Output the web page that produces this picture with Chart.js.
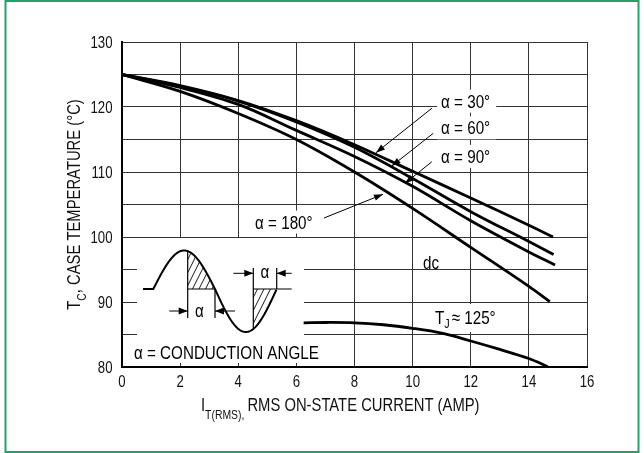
<!DOCTYPE html>
<html>
<head>
<meta charset="utf-8">
<script src="https://cdn.jsdelivr.net/npm/chart.js@4/dist/chart.umd.min.js"></script>
<style>
  html, body { margin: 0; padding: 0; background: #fff; }
  canvas { display: block; }
</style>
</head>
<body>
<canvas id="c" width="644" height="453"></canvas>
<script>
const FONT = "'Liberation Sans', Arial, sans-serif";
const NARROW = 0.8;   // horizontal squeeze for the condensed lettering

// Axis ticks
const xTickValues = [0, 2, 4, 6, 8, 10, 12, 14, 16];
const yTickValues = [80, 85, 90, 95, 100, 105, 110, 115, 120, 125, 130];
const yLabelValues = [80, 90, 100, 110, 120, 130];

// Maximum case temperature vs RMS on-state current, per conduction angle
const xAlpha30  = [0, 2, 4, 6, 8, 10, 12, 14, 14.83];
const tcAlpha30 = [125, 123.3, 121.0, 117.9, 114.2, 110.1, 106.0, 101.8, 100.0];
const xAlpha60  = [0, 2, 4, 6, 8, 10, 12, 14, 14.85];
const tcAlpha60 = [125, 123.2, 120.9, 117.7, 113.8, 109.0, 103.9, 99.3, 97.3];
const xAlpha90  = [0, 2, 4, 6, 8, 10, 12, 14, 14.9];
const tcAlpha90 = [125, 123.0, 120.4, 116.4, 112.4, 107.8, 102.5, 97.7, 95.7];
const xAlpha180  = [0, 2, 4, 6, 8, 10, 12, 14, 14.72];
const tcAlpha180 = [125, 122.4, 119.0, 115.0, 110.0, 104.4, 98.4, 92.4, 90.05];
// Junction-temperature curve
const xJunction  = [6.25, 7, 8, 9, 10, 11, 12, 13, 14, 14.65];
const tcJunction = [86.8, 86.85, 86.8, 86.5, 85.95, 85.2, 84.0, 82.7, 81.3, 80.05];

const toPoints = (xs, ys) => xs.map((x, i) => ({ x, y: ys[i] }));

const curveStyle = {
  borderColor: '#000',
  borderWidth: 2.8,
  pointRadius: 0,
  fill: false,
  tension: 0.35
};

// Curve labels with leader arrows (data coordinates)
const curveLabels = [
  { text: 'α = 30°',  at: [10.98, 120.9], from: [10.66, 119.8],  to: [8.74, 112.97] },
  { text: 'α = 60°',  at: [10.98, 116.8], from: [10.71, 115.95], to: [9.28, 110.92] },
  { text: 'α = 90°',  at: [10.98, 112.4], from: [10.66, 111.58], to: [9.74, 108.26] },
  { text: 'α = 180°', at: [4.58, 102.3],  from: [6.95, 102.92],  to: [8.98, 106.57] }
];
const plainLabels = [
  { text: 'dc', at: [10.36, 96.15] }
];

// Condensed text: draws with a horizontal squeeze, returns drawn width
function say(ctx, text, x, y, size, align = 'left', baseline = 'alphabetic') {
  ctx.save();
  ctx.font = size + 'px ' + FONT;
  ctx.textAlign = align;
  ctx.textBaseline = baseline;
  ctx.translate(x, y);
  ctx.scale(NARROW, 1);
  ctx.fillText(text, 0, 0);
  const w = ctx.measureText(text).width * NARROW;
  ctx.restore();
  return w;
}
function textWidth(ctx, text, size) {
  ctx.save();
  ctx.font = size + 'px ' + FONT;
  const w = ctx.measureText(text).width * NARROW;
  ctx.restore();
  return w;
}

function arrowHead(ctx, x1, y1, x2, y2, len, half) {
  const a = Math.atan2(y2 - y1, x2 - x1);
  const bx = x2 - len * Math.cos(a), by = y2 - len * Math.sin(a);
  ctx.beginPath();
  ctx.moveTo(x2, y2);
  ctx.lineTo(bx + half * Math.sin(a), by - half * Math.cos(a));
  ctx.lineTo(bx - half * Math.sin(a), by + half * Math.cos(a));
  ctx.closePath();
  ctx.fill();
}
function arrow(ctx, x1, y1, x2, y2, len = 9, half = 3.2) {
  ctx.beginPath();
  ctx.moveTo(x1, y1);
  ctx.lineTo(x2, y2);
  ctx.stroke();
  arrowHead(ctx, x1, y1, x2, y2, len, half);
}

// Waveform inset geometry (pixel offsets from the chart area's top-left)
const inset = { left: 15, top: 196, right: 182, bottom: 321 };
const LABEL_SIZE = 19;

const decorations = {
  id: 'decorations',
  beforeDatasetsDraw(chart) {
    const { ctx, chartArea: ca, scales: { x, y } } = chart;
    ctx.save();
    ctx.fillStyle = '#fff';
    ctx.fillRect(ca.left + inset.left, ca.top + inset.top,
                 inset.right - inset.left, inset.bottom - inset.top);
    curveLabels.forEach(l => {
      const lx = x.getPixelForValue(l.at[0]), ly = y.getPixelForValue(l.at[1]);
      const w = textWidth(ctx, l.text, LABEL_SIZE);
      ctx.fillRect(lx - 4, ly - 11.5, w + 10, 23);
    });
    const tx = x.getPixelForValue(10.77), ty = y.getPixelForValue(87.54);
    ctx.fillRect(tx - 3, ty - 14, 74, 28);
    ctx.restore();
  },
  afterDatasetsDraw(chart) {
    const { ctx, chartArea: ca, scales: { x, y } } = chart;
    ctx.save();
    ctx.fillStyle = '#000';
    ctx.strokeStyle = '#000';

    curveLabels.forEach(l => {
      say(ctx, l.text, x.getPixelForValue(l.at[0]), y.getPixelForValue(l.at[1]) + 6.5, LABEL_SIZE);
      ctx.lineWidth = 1;
      arrow(ctx, x.getPixelForValue(l.from[0]), y.getPixelForValue(l.from[1]),
                 x.getPixelForValue(l.to[0]), y.getPixelForValue(l.to[1]));
    });
    plainLabels.forEach(l => {
      say(ctx, l.text, x.getPixelForValue(l.at[0]), y.getPixelForValue(l.at[1]) + 6.5, LABEL_SIZE);
    });

    // T_J ≈ 125°
    let tx = x.getPixelForValue(10.77);
    const ty = y.getPixelForValue(87.54) + 6.5;
    tx += say(ctx, 'T', tx, ty, LABEL_SIZE);
    tx += say(ctx, 'J', tx, ty + 4, 13.5) + 2;
    say(ctx, '≈ 125°', tx, ty, LABEL_SIZE);

    // Waveform inset
    const ox = ca.left, oy = ca.top;
    const base = oy + 247;
    const x0 = ox + 31.3, period = 123.4, aPos = 38.5, aNeg = 43;
    const waveY = px => {
      const s = Math.sin(2 * Math.PI * (px - x0) / period);
      return base - (s >= 0 ? aPos : aNeg) * s;
    };
    const xCut1 = ox + 65.7, xZero = x0 + period / 2;
    const xCut2 = ox + 131.3, xEnd = x0 + period;

    const hatch = (buildPath) => {
      ctx.save();
      ctx.beginPath();
      buildPath();
      ctx.closePath();
      ctx.clip();
      ctx.lineWidth = 0.9;
      ctx.beginPath();
      for (let k = -200; k < 400; k += 6.5) {
        ctx.moveTo(ox + k, base + 60);
        ctx.lineTo(ox + k + 60, base - 60);
      }
      ctx.stroke();
      ctx.restore();
    };
    hatch(() => {
      ctx.moveTo(xCut1, base);
      for (let px = xCut1; px <= xZero; px += 0.5) ctx.lineTo(px, waveY(px));
      ctx.lineTo(xZero, base);
    });
    hatch(() => {
      ctx.moveTo(xCut2, base);
      for (let px = xCut2; px <= xEnd; px += 0.5) ctx.lineTo(px, waveY(px));
      ctx.lineTo(xEnd, base);
    });

    ctx.lineWidth = 2;
    ctx.beginPath();
    ctx.moveTo(ox + 21, base);
    ctx.lineTo(x0, base);
    for (let px = x0; px <= xEnd; px += 0.5) ctx.lineTo(px, waveY(px));
    ctx.stroke();

    ctx.lineWidth = 1.2;
    ctx.beginPath();
    ctx.moveTo(xCut1, waveY(xCut1)); ctx.lineTo(xCut1, oy + 276);
    ctx.moveTo(xCut1, base); ctx.lineTo(xZero, base);
    ctx.moveTo(xZero, base); ctx.lineTo(xZero, oy + 276);
    ctx.moveTo(xCut2, oy + 226); ctx.lineTo(xCut2, waveY(xCut2));
    ctx.moveTo(xCut2, base); ctx.lineTo(ox + 169.7, base);
    ctx.moveTo(xEnd, oy + 226); ctx.lineTo(xEnd, base);
    ctx.stroke();

    ctx.lineWidth = 1;
    const yUp = oy + 231.3, yLow = oy + 269;
    arrow(ctx, ox + 111.3, yUp, xCut2, yUp, 9, 3.5);
    arrow(ctx, ox + 169.7, yUp, xEnd, yUp, 9, 3.5);
    arrow(ctx, ox + 47.3, yLow, xCut1, yLow, 9, 3.5);
    arrow(ctx, ox + 113, yLow, xZero, yLow, 9, 3.5);
    say(ctx, 'α', (xCut2 + xEnd) / 2, yUp + 5, LABEL_SIZE, 'center');
    say(ctx, 'α', (xCut1 + xZero) / 2 - 2, yLow + 6, LABEL_SIZE, 'center');
    say(ctx, 'α = CONDUCTION ANGLE', ox + 12, oy + 316.5, 19);

    ctx.restore();
  },
  afterDraw(chart) {
    const { ctx, chartArea: ca, scales: { x, y } } = chart;
    ctx.save();
    ctx.fillStyle = '#111';

    // tick labels
    xTickValues.forEach(v => say(ctx, String(v), x.getPixelForValue(v), 386.5, 16.5, 'center'));
    yLabelValues.forEach(v => say(ctx, String(v), 112.5, y.getPixelForValue(v) + 6, 16.5, 'right'));

    // x-axis title with subscript
    let tx = 201;
    const xBase = 410.5;
    tx += say(ctx, 'I', tx, xBase, 18.5);
    tx += say(ctx, 'T(RMS),', tx, xBase + 8, 13) + 3;
    say(ctx, 'RMS ON-STATE CURRENT (AMP)', tx, xBase, 18.5);

    // y-axis title with subscript, rotated
    ctx.translate(79.5, (ca.top + ca.bottom) / 2);
    ctx.rotate(-Math.PI / 2);
    const wT = textWidth(ctx, 'T', 18.5);
    const wC = textWidth(ctx, 'C', 13);
    const wMain = textWidth(ctx, ', CASE TEMPERATURE (°C)', 18.5);
    let s = -(wT + wC + wMain) / 2;
    s += say(ctx, 'T', s, 0, 18.5);
    s += say(ctx, 'C', s, 6, 13);
    say(ctx, ', CASE TEMPERATURE (°C)', s, 0, 18.5);
    ctx.restore();

    // frame
    ctx.save();
    ctx.strokeStyle = '#26a06a';
    ctx.lineWidth = 2;
    ctx.strokeRect(5.5, 1, 633, 451);
    ctx.restore();
  }
};

new Chart(document.getElementById('c'), {
  type: 'line',
  data: {
    datasets: [
      { label: 'α = 30°',  data: toPoints(xAlpha30, tcAlpha30), ...curveStyle },
      { label: 'α = 60°',  data: toPoints(xAlpha60, tcAlpha60), ...curveStyle },
      { label: 'α = 90°',  data: toPoints(xAlpha90, tcAlpha90), ...curveStyle },
      { label: 'α = 180°', data: toPoints(xAlpha180, tcAlpha180), ...curveStyle },
      { label: 'TJ ≈ 125°', data: toPoints(xJunction, tcJunction), ...curveStyle }
    ]
  },
  options: {
    responsive: false,
    animation: false,
    devicePixelRatio: 1,
    layout: { padding: { left: 0, right: 57, top: 42, bottom: 0 } },
    plugins: { legend: { display: false }, tooltip: { enabled: false } },
    scales: {
      x: {
        type: 'linear', min: 0, max: 16,
        afterBuildTicks: s => { s.ticks = xTickValues.map(v => ({ value: v })); },
        afterFit: s => { s.height = 86; },
        grid: { color: '#333', lineWidth: 1, drawTicks: false },
        border: { color: '#000', width: 2 },
        ticks: { display: false }
      },
      y: {
        type: 'linear', min: 80, max: 130,
        afterBuildTicks: s => { s.ticks = yTickValues.map(v => ({ value: v })); },
        afterFit: s => { s.width = 122; },
        grid: { color: '#333', lineWidth: 1, drawTicks: false },
        border: { color: '#000', width: 2 },
        ticks: { display: false }
      }
    }
  },
  plugins: [decorations]
});
</script>
</body>
</html>
